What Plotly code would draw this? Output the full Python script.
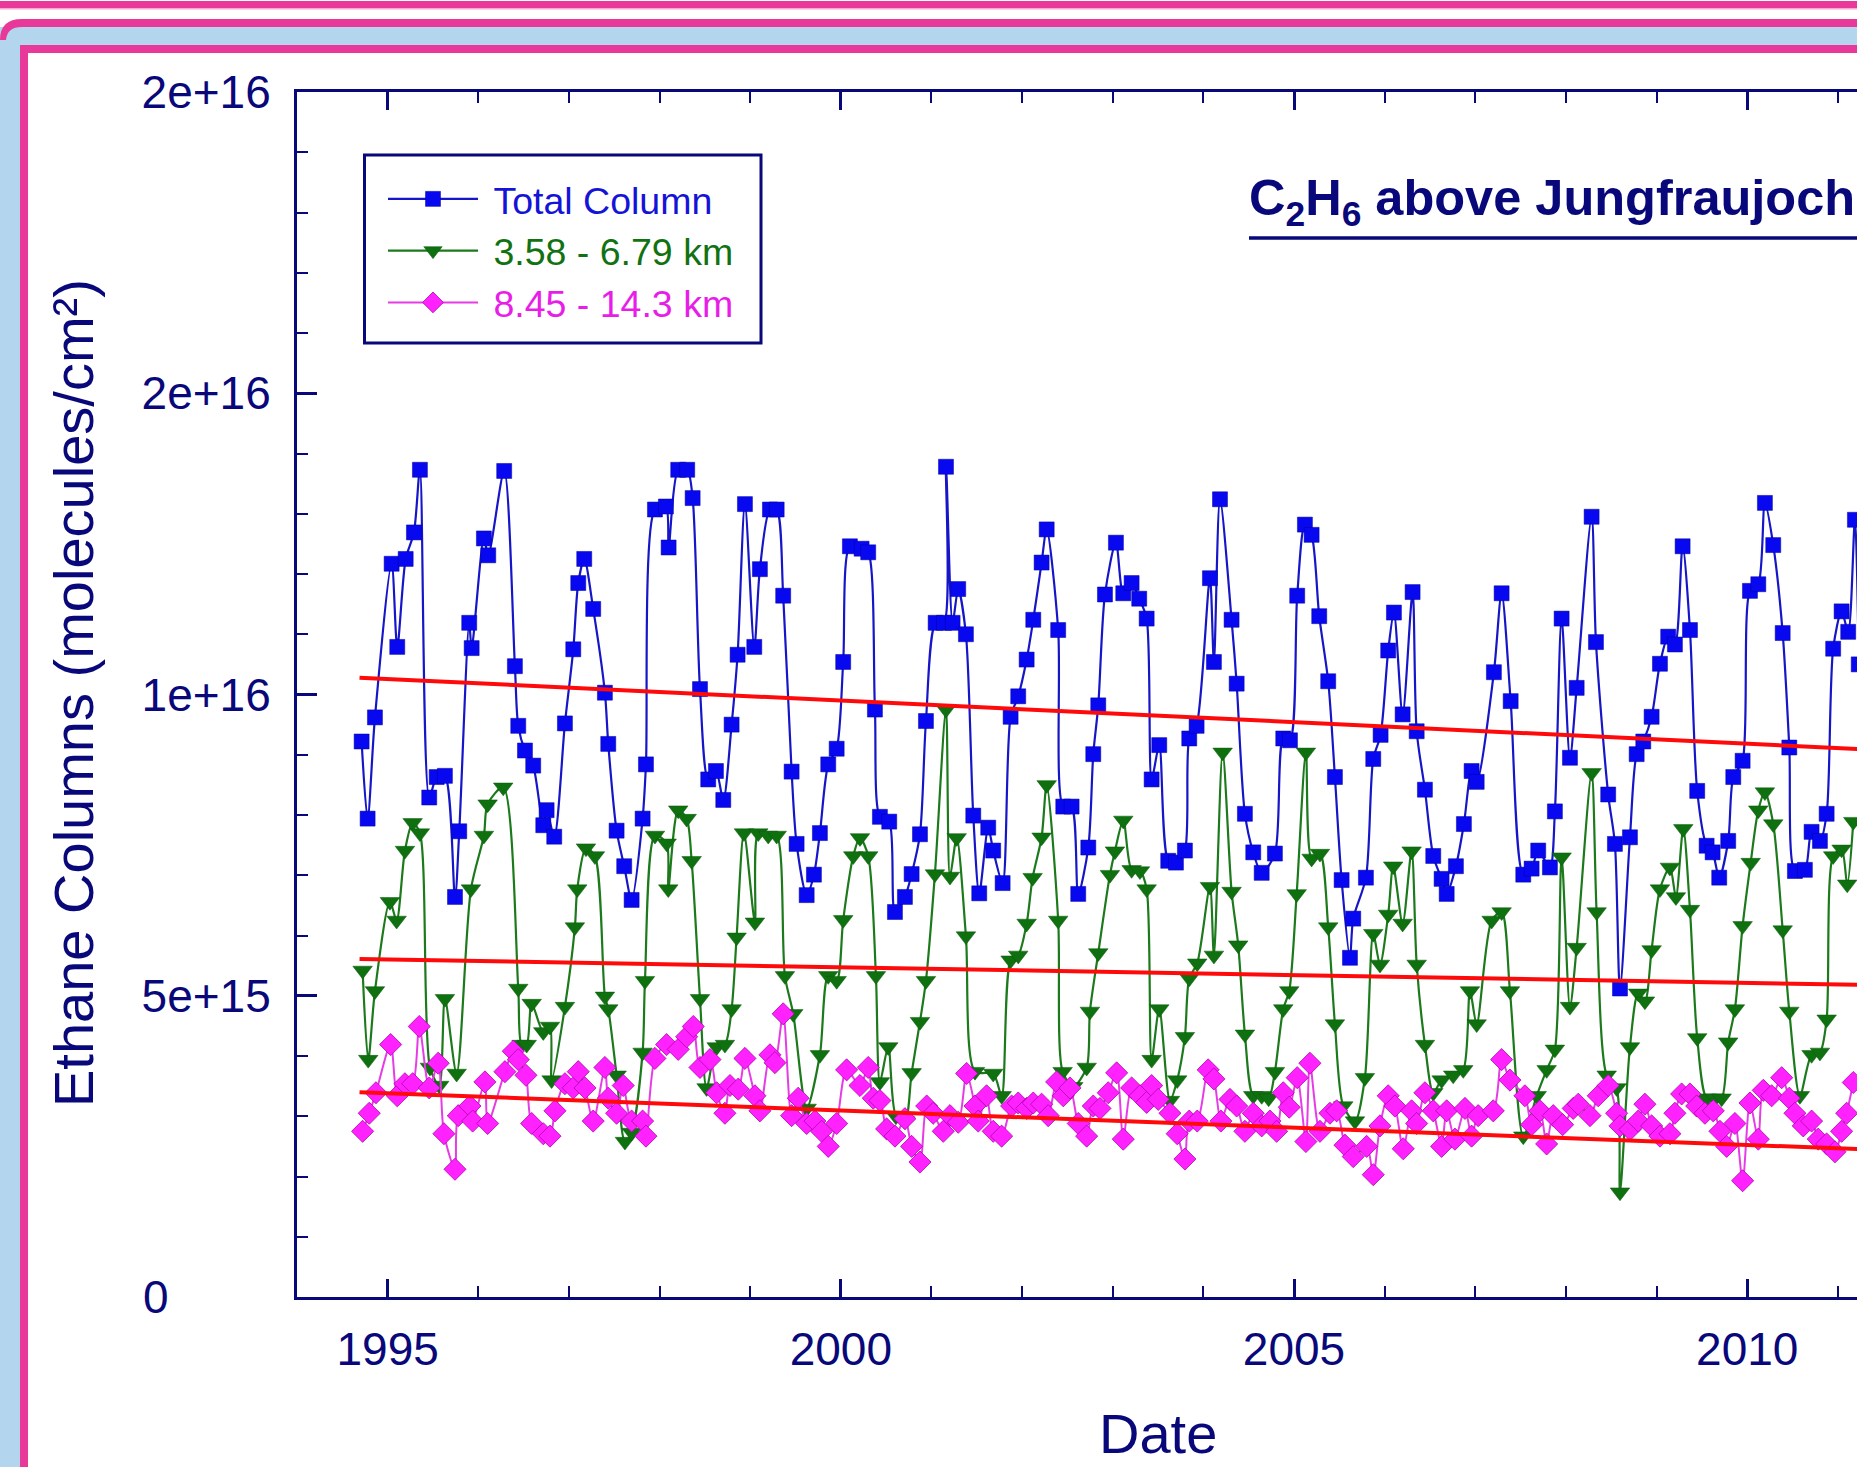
import plotly.graph_objects as go

# ---------------- data (values in units of 1e15 molecules/cm2) ----------------
SCALE = 1e15

total_years = [
    1994.713, 1994.779, 1994.860, 1995.044, 1995.106, 1995.199, 1995.290, 1995.356, 1995.459, 1995.541,
    1995.632, 1995.743, 1995.790, 1995.900, 1995.927, 1996.062, 1996.110, 1996.286, 1996.404, 1996.441,
    1996.515, 1996.606, 1996.717, 1996.754, 1996.838, 1996.956, 1997.048, 1997.103, 1997.169, 1997.268,
    1997.397, 1997.434, 1997.526, 1997.610, 1997.692, 1997.813, 1997.850, 1997.949, 1998.070, 1998.100,
    1998.206, 1998.305, 1998.365, 1998.446, 1998.537, 1998.622, 1998.703, 1998.795, 1998.861, 1998.942,
    1999.045, 1999.107, 1999.218, 1999.292, 1999.364, 1999.457, 1999.512, 1999.623, 1999.703, 1999.769,
    1999.861, 1999.954, 2000.026, 2000.100,
    2000.229, 2000.302, 2000.376, 2000.431, 2000.534, 2000.597, 2000.707, 2000.781, 2000.873, 2000.939,
    2001.046, 2001.138, 2001.160, 2001.233, 2001.295, 2001.380, 2001.461, 2001.527, 2001.626, 2001.681,
    2001.785, 2001.873, 2001.957, 2002.050, 2002.123, 2002.215, 2002.271, 2002.398, 2002.454, 2002.546,
    2002.619, 2002.730, 2002.785, 2002.840,
    2002.914, 2003.035, 2003.116, 2003.208, 2003.292, 2003.374, 2003.429, 2003.513, 2003.612, 2003.697,
    2003.796, 2003.844, 2003.925, 2004.072, 2004.116, 2004.183, 2004.311, 2004.367, 2004.458, 2004.550,
    2004.643, 2004.789, 2004.881, 2004.955, 2005.035, 2005.120, 2005.194, 2005.278, 2005.377, 2005.451,
    2005.525, 2005.617, 2005.653,
    2005.793, 2005.874, 2005.955, 2006.039, 2006.102, 2006.198, 2006.308, 2006.353, 2006.444, 2006.536,
    2006.628, 2006.684, 2006.786, 2006.874, 2006.959, 2007.015, 2007.205, 2007.290, 2007.390, 2007.529,
    2007.621, 2007.694, 2007.823, 2007.878, 2007.952, 2008.044, 2008.118, 2008.283, 2008.331,
    2008.466, 2008.540, 2008.596, 2008.706, 2008.780, 2008.853, 2008.945, 2009.037, 2009.128, 2009.202,
    2009.287, 2009.368, 2009.448, 2009.552, 2009.618, 2009.691, 2009.790, 2009.846, 2009.949, 2010.030,
    2010.122, 2010.195, 2010.287, 2010.391, 2010.464, 2010.526, 2010.636, 2010.710, 2010.802, 2010.876,
    2010.948, 2011.041, 2011.114, 2011.188, 2011.230,
]
total_vals = [
    9.22, 7.94, 9.62, 12.17, 10.79, 12.25, 12.69, 13.73, 8.29, 8.63,
    8.65, 6.64, 7.73, 11.19, 10.77, 12.59, 12.31, 13.71, 10.47, 9.48,
    9.07, 8.82, 7.83, 8.08, 7.64, 9.52, 10.75, 11.85, 12.25, 11.42,
    10.03, 9.18, 7.74, 7.15, 6.59, 7.94, 8.84, 13.07, 13.12, 12.44,
    13.73, 13.73, 13.26, 10.09, 8.59, 8.73, 8.25, 9.50, 10.66, 13.16,
    10.79, 12.08, 13.07, 13.07, 11.64, 8.72, 7.52, 6.67, 7.01, 7.70,
    8.84, 9.10, 10.54, 12.46,
    12.42, 12.36, 9.75, 7.97, 7.89, 6.39, 6.64, 7.02, 7.68, 9.56,
    11.19, 11.19, 13.78, 11.19, 11.75, 11.00, 7.99, 6.70, 7.79, 7.41,
    6.87, 9.63, 9.97, 10.58, 11.24, 12.19, 12.74, 11.07, 8.14, 8.14,
    6.69, 7.46, 9.01, 9.82,
    11.66, 12.52, 11.68, 11.85, 11.59, 11.26, 8.59, 9.16, 7.24, 7.21,
    7.41, 9.27, 9.48, 11.93, 10.54, 13.24, 11.24, 10.18, 8.02, 7.38,
    7.04, 7.36, 9.27, 9.24, 11.64, 12.82, 12.65, 11.30, 10.22, 8.63,
    6.92, 5.63, 6.28,
    6.96, 8.93, 9.33, 10.73, 11.36, 9.67, 11.70, 9.39, 8.42, 7.32,
    6.94, 6.69, 7.15, 7.85, 8.73, 8.55, 10.37, 11.68, 9.89, 7.01,
    7.11, 7.41, 7.13, 8.06, 11.26, 8.95, 10.11, 12.95, 10.87,
    8.34, 7.52, 5.12, 7.63, 9.01, 9.22, 9.63, 10.51, 10.96, 10.83,
    12.46, 11.07, 8.40, 7.49, 7.38, 6.96, 7.57, 8.63, 8.90, 11.72,
    11.83, 13.18, 12.48, 11.02, 9.12, 7.07, 7.09, 7.72, 7.57, 8.02,
    10.76, 11.38, 11.04, 12.90, 10.50,
]

mid_years = [
    1994.724, 1994.786, 1994.860, 1995.025, 1995.099, 1995.191, 1995.276, 1995.356, 1995.467, 1995.569,
    1995.632, 1995.761, 1995.919, 1996.062, 1996.103, 1996.275, 1996.441, 1996.478, 1996.534, 1996.589,
    1996.717, 1996.791, 1996.809, 1996.956, 1997.066, 1997.092, 1997.188, 1997.287,
    1997.397, 1997.434, 1997.526, 1997.618, 1997.692, 1997.813, 1997.839, 1997.949, 1998.078, 1998.096,
    1998.206, 1998.299, 1998.354, 1998.446, 1998.519, 1998.630, 1998.721, 1998.795, 1998.850, 1998.931,
    1999.052, 1999.089, 1999.199, 1999.292, 1999.383, 1999.475, 1999.623, 1999.769, 1999.861, 1999.954,
    2000.026,
    2000.137, 2000.211, 2000.302, 2000.387, 2000.431, 2000.523, 2000.608, 2000.707, 2000.781, 2000.873,
    2000.939, 2001.038, 2001.160, 2001.204, 2001.278, 2001.380, 2001.480, 2001.681, 2001.774, 2001.873,
    2001.957, 2002.050, 2002.116, 2002.215, 2002.271, 2002.398, 2002.447, 2002.564, 2002.712, 2002.748,
    2002.840,
    2002.969, 2003.024, 2003.116, 2003.208, 2003.300, 2003.374, 2003.429, 2003.513, 2003.631, 2003.711,
    2003.796, 2003.844, 2003.932, 2004.072, 2004.116, 2004.212, 2004.311, 2004.384, 2004.458, 2004.550,
    2004.643, 2004.720, 2004.789, 2004.881, 2004.947, 2005.029, 2005.131, 2005.194, 2005.286, 2005.377,
    2005.451, 2005.543,
    2005.672, 2005.782, 2005.874, 2005.948, 2006.039, 2006.094, 2006.198, 2006.297, 2006.353, 2006.444,
    2006.536, 2006.628, 2006.756, 2006.867, 2006.941, 2007.015, 2007.180, 2007.290, 2007.382, 2007.529,
    2007.677, 2007.787, 2007.878, 2007.952, 2008.044, 2008.118, 2008.283, 2008.338,
    2008.449, 2008.559, 2008.596, 2008.706, 2008.797, 2008.871, 2008.945, 2009.037, 2009.147, 2009.213,
    2009.294, 2009.368, 2009.448, 2009.552, 2009.644, 2009.717, 2009.790, 2009.864, 2009.949, 2010.038,
    2010.122, 2010.195, 2010.287, 2010.391, 2010.464, 2010.581, 2010.710, 2010.802, 2010.876, 2010.948,
    2011.041, 2011.103, 2011.170,
]
mid_vals = [
    5.42, 3.94, 5.08, 6.56, 6.25, 7.41, 7.87, 7.70, 3.81, 3.51,
    4.95, 3.71, 6.77, 7.66, 8.18, 8.46, 5.12, 4.19, 4.19, 4.87,
    4.40, 4.49, 3.60, 4.82, 6.14, 6.77, 7.45, 7.32,
    4.99, 4.78, 3.68, 2.58, 2.73, 4.06, 5.25, 7.66, 7.53, 6.77,
    8.08, 7.94, 7.24, 4.95, 3.47, 4.15, 4.19, 4.78, 5.97, 7.70,
    6.22, 7.70, 7.66, 7.66, 5.33, 4.70, 3.13, 4.02, 5.33, 5.25,
    6.26,
    7.32, 7.62, 7.32, 5.33, 3.57, 4.15, 3.00, 2.92, 3.72, 4.57,
    5.25, 7.02, 9.75, 6.98, 7.62, 5.99, 3.74, 3.71, 3.34, 5.59,
    5.67, 6.20, 6.96, 7.63, 8.50, 6.25, 3.74, 3.49, 3.81, 4.74,
    5.71,
    7.01, 7.40, 7.91, 7.09, 7.07, 6.77, 3.94, 4.78, 3.26, 3.60,
    4.32, 5.29, 5.54, 6.81, 5.67, 9.04, 6.73, 5.84, 4.36, 3.34,
    3.34, 3.30, 3.74, 4.78, 5.08, 6.69, 9.04, 7.28, 7.36, 6.14,
    4.53, 3.17,
    2.92, 3.64, 6.03, 5.52, 6.35, 7.15, 6.20, 7.40, 5.52, 4.19,
    3.39, 3.60, 3.68, 3.77, 5.08, 4.53, 6.25, 6.39, 5.08, 2.67,
    3.34, 3.77, 4.11, 7.30, 4.82, 5.80, 8.70, 6.39,
    3.68, 3.47, 1.74, 4.15, 5.04, 4.91, 5.76, 6.77, 7.13, 6.64,
    7.77, 6.43, 4.30, 3.30, 3.30, 3.30, 4.23, 4.78, 6.16, 7.21,
    8.08, 8.38, 7.85, 6.09, 4.74, 3.34, 4.02, 4.06, 4.61, 7.32,
    7.43, 6.85, 7.89,
]

upper_years = [
    1994.724, 1994.797, 1994.871, 1995.033, 1995.106, 1995.191, 1995.276, 1995.349, 1995.459, 1995.558,
    1995.621, 1995.743, 1995.779, 1995.908, 1995.938, 1996.073, 1996.103, 1996.294, 1996.386, 1996.441,
    1996.526, 1996.589, 1996.717, 1996.791, 1996.846, 1996.956, 1997.048, 1997.103, 1997.177, 1997.268,
    1997.397, 1997.434, 1997.526, 1997.599, 1997.692, 1997.813, 1997.850, 1997.949, 1998.078, 1998.206,
    1998.299, 1998.372, 1998.446, 1998.556, 1998.630, 1998.721, 1998.777, 1998.868, 1998.942, 1999.052,
    1999.107, 1999.218, 1999.273, 1999.364, 1999.457, 1999.530, 1999.623, 1999.714, 1999.788, 1999.861,
    1999.954, 2000.064,
    2000.211, 2000.302, 2000.358, 2000.431, 2000.505, 2000.597, 2000.707, 2000.781, 2000.873, 2000.947,
    2001.019, 2001.130, 2001.204, 2001.295, 2001.388, 2001.480, 2001.516, 2001.608, 2001.681, 2001.774,
    2001.884, 2001.957, 2002.050, 2002.123, 2002.215, 2002.288, 2002.381, 2002.454, 2002.528, 2002.619,
    2002.712, 2002.785,
    2002.859, 2002.950, 2003.043, 2003.116, 2003.208, 2003.300, 2003.374, 2003.429, 2003.502, 2003.631,
    2003.711, 2003.796, 2003.844, 2003.932, 2004.053, 2004.116, 2004.193, 2004.293, 2004.367, 2004.458,
    2004.550, 2004.643, 2004.734, 2004.808, 2004.881, 2004.947, 2005.035, 2005.131, 2005.175, 2005.286,
    2005.396, 2005.470, 2005.562,
    2005.653, 2005.801, 2005.874, 2005.948, 2006.039, 2006.113, 2006.205, 2006.297, 2006.353, 2006.444,
    2006.536, 2006.628, 2006.684, 2006.775, 2006.886, 2006.959, 2007.032, 2007.198, 2007.290, 2007.382,
    2007.547, 2007.621, 2007.713, 2007.787, 2007.860, 2007.963, 2008.080, 2008.136, 2008.265, 2008.356,
    2008.466, 2008.559, 2008.596, 2008.706, 2008.797, 2008.871, 2008.945, 2009.037, 2009.147, 2009.202,
    2009.276, 2009.368, 2009.442, 2009.533, 2009.625, 2009.699, 2009.773, 2009.864, 2009.949, 2010.030,
    2010.122, 2010.177, 2010.269, 2010.380, 2010.464, 2010.526, 2010.618, 2010.710, 2010.783, 2010.876,
    2010.968, 2011.041, 2011.097, 2011.170,
]
upper_vals = [
    2.75, 3.05, 3.39, 4.19, 3.34, 3.54, 3.54, 4.49, 3.47, 3.88,
    2.71, 2.12, 3.01, 3.17, 2.92, 3.57, 2.88, 3.74, 4.08, 3.94,
    3.68, 2.88, 2.71, 2.67, 3.09, 3.54, 3.47, 3.74, 3.47, 2.92,
    3.81, 3.30, 3.05, 3.51, 2.92, 2.92, 2.67, 3.96, 4.19, 4.11,
    4.32, 4.49, 3.81, 3.94, 3.39, 3.05, 3.51, 3.45, 3.96, 3.34,
    3.09, 4.02, 3.89, 4.70, 3.01, 3.30, 2.88, 2.92, 2.75, 2.50,
    2.88, 3.77,
    3.51, 3.81, 3.30, 3.26, 2.79, 2.67, 2.96, 2.50, 2.24, 3.17,
    3.05, 2.75, 3.01, 2.90, 3.71, 3.17, 2.92, 3.34, 2.75, 2.67,
    3.17, 3.22, 3.13, 3.22, 3.20, 3.01, 3.57, 3.34, 3.47, 2.88,
    2.67, 3.17,
    3.13, 3.39, 3.72, 2.62, 3.47, 3.34, 3.23, 3.51, 3.28, 3.05,
    2.71, 2.29, 2.92, 2.92, 3.77, 3.62, 2.92, 3.28, 3.17, 2.75,
    3.05, 2.84, 2.92, 2.75, 3.39, 3.15, 3.64, 2.58, 3.88, 2.75,
    3.05, 3.09, 2.52,
    2.33, 2.50, 2.03, 2.84, 3.34, 3.17, 2.46, 3.09, 2.88, 3.39,
    3.09, 2.50, 3.09, 2.62, 3.13, 2.67, 3.01, 3.09, 3.94, 3.60,
    3.34, 2.86, 3.09, 2.54, 3.01, 2.86, 3.13, 3.20, 3.01, 3.34,
    3.51, 3.05, 2.84, 2.78, 2.92, 3.20, 2.84, 2.67, 2.71, 3.05,
    3.37, 3.37, 3.17, 3.05, 3.09, 2.75, 2.50, 2.88, 1.93, 3.22,
    2.62, 3.43, 3.34, 3.64, 3.30, 3.05, 2.84, 2.92, 2.62, 2.54,
    2.41, 2.75, 3.05, 3.56,
]

trend_years = [1994.69, 2011.30]
trend_total = [10.28, 9.09]
trend_mid = [5.61, 5.18]
trend_upper = [3.40, 2.45]

series_names = ["Total Column", "3.58 - 6.79 km", "8.45 - 14.3 km"]
x_tick_vals = [1995, 2000, 2005, 2010]
x_tick_text = ["1995", "2000", "2005", "2010"]
y_tick_vals = [0, 5, 10, 15, 20]          # x 1e15
y_tick_text = ["0\u2007\u2007\u2007\u2007", "5e+15", "1e+16", "2e+16", "2e+16"]
y_title = "Ethane Columns (molecules/cm\u00b2)"
x_title = "Date"
chart_title = "<b>C<sub>2</sub>H<sub>6</sub> above Jungfraujoch</b>"

assert len(total_years) == len(total_vals)
assert len(mid_years) == len(mid_vals)
assert len(upper_years) == len(upper_vals)

# ---------------- styling ----------------
W, H = 1857, 1467
L, R, T, B = 297, 0, 92, 170
PW, PH = W - L - R, H - T - B
NAVY = "#08087a"
BLUE = "#0808f0"
GREEN = "#0f700f"
MAGENTA = "#ff22ff"
RED = "#ff0a0a"
PINK = "#e8389a"
LIGHTBLUE = "#b3d6ee"
FONT = "Liberation Sans, Arial, sans-serif"


def fx(p):
    return (p - L) / PW


def fy(p):
    return (H - B - p) / PH


def sc(v):
    return [a * SCALE for a in v]


fig = go.Figure()

fig.add_trace(go.Scatter(
    x=total_years, y=sc(total_vals), mode="lines+markers",
    name='<span style="color:#1414d8">\u00a0%s</span>' % series_names[0],
    line=dict(color="#1616c8", width=2.2, shape="spline", smoothing=0.8),
    marker=dict(symbol="square", size=15, color=BLUE, line=dict(color="#0000a0", width=0.5)),
))
fig.add_trace(go.Scatter(
    x=mid_years, y=sc(mid_vals), mode="lines+markers",
    name='<span style="color:#127212">\u00a0%s</span>' % series_names[1],
    line=dict(color="#1c7a1c", width=2.2, shape="spline", smoothing=0.8),
    marker=dict(symbol="triangle-down", size=17, color=GREEN, line=dict(color="#0a5a0a", width=0.5)),
))
fig.add_trace(go.Scatter(
    x=upper_years, y=sc(upper_vals), mode="lines+markers",
    name='<span style="color:#e81ee8">\u00a0%s</span>' % series_names[2],
    line=dict(color="#e63ce6", width=2.0, shape="spline", smoothing=0.8),
    marker=dict(symbol="diamond", size=17, color=MAGENTA, line=dict(color="#b000b0", width=0.8)),
))
for tv in (trend_total, trend_mid, trend_upper):
    fig.add_trace(go.Scatter(
        x=trend_years, y=sc(tv), mode="lines", showlegend=False, hoverinfo="skip",
        line=dict(color=RED, width=4),
    ))

axis_common = dict(
    showline=True, linecolor=NAVY, linewidth=3, showgrid=False, zeroline=False,
    ticks="inside", tickcolor=NAVY, tickwidth=2.5,
    tickfont=dict(family=FONT, size=46, color=NAVY),
)

fig.update_xaxes(
    range=[1994, 1994 + PW / 90.64], tickmode="array", tickvals=x_tick_vals, ticktext=x_tick_text,
    ticklen=18, mirror="ticks", ticklabelstandoff=10,
    minor=dict(dtick=1, tick0=1994, ticks="inside", ticklen=11, tickwidth=2, tickcolor=NAVY),
    **axis_common,
)
fig.update_yaxes(
    range=[0, 20 * SCALE], tickmode="array", tickvals=sc(y_tick_vals), ticktext=y_tick_text,
    ticklen=20, mirror=False, ticklabelstandoff=14,
    minor=dict(dtick=SCALE, ticks="inside", ticklen=11, tickwidth=2, tickcolor=NAVY),
    **axis_common,
)

shapes = []
# light blue frame band
shapes.append(dict(type="rect", xref="paper", yref="paper", x0=fx(0), x1=fx(W + 30), y0=fy(27), y1=fy(H + 30),
                   fillcolor=LIGHTBLUE, line=dict(width=0), layer="below"))
# inner pink border
shapes.append(dict(type="rect", xref="paper", yref="paper", x0=fx(20), x1=fx(W + 30), y0=fy(45), y1=fy(H + 30),
                   fillcolor=PINK, line=dict(width=0), layer="below"))
shapes.append(dict(type="rect", xref="paper", yref="paper", x0=fx(28), x1=fx(W + 30), y0=fy(53), y1=fy(H + 30),
                   fillcolor="white", line=dict(width=0), layer="below"))
# outer pink band with rounded corner
pts = "M %f,%f Q %f,%f %f,%f L %f,%f L %f,%f L %f,%f Q %f,%f %f,%f Z" % (
    fx(0), fy(40), fx(0), fy(19), fx(22), fy(19), fx(W + 30), fy(19), fx(W + 30), fy(27),
    fx(22), fy(27), fx(7), fy(27), fx(6), fy(40))
shapes.append(dict(type="path", xref="paper", yref="paper", path=pts, fillcolor=PINK,
                   line=dict(width=0), layer="below"))
# top pink stripe
shapes.append(dict(type="rect", xref="paper", yref="paper", x0=fx(-5), x1=fx(W + 30), y0=fy(1), y1=fy(8),
                   fillcolor=PINK, line=dict(width=0), layer="below"))
shapes.append(dict(type="rect", xref="paper", yref="paper", x0=fx(-5), x1=fx(W + 30), y0=fy(8), y1=fy(9.5),
                   fillcolor="#f6a9cd", line=dict(width=0), layer="below"))
# legend frame
shapes.append(dict(type="rect", xref="paper", yref="paper", x0=fx(364.5), x1=fx(761), y0=fy(155), y1=fy(343),
                   fillcolor="white", line=dict(color=NAVY, width=3), layer="below"))
# title underline
shapes.append(dict(type="line", xref="paper", yref="paper", x0=fx(1249), x1=fx(W + 30), y0=fy(238), y1=fy(238),
                   line=dict(color=NAVY, width=3.5), layer="above"))

annotations = [
    dict(text=y_title, xref="paper", yref="paper", x=fx(73), y=fy(693), textangle=-90,
         showarrow=False, xanchor="center", yanchor="middle",
         font=dict(family=FONT, size=56, color=NAVY)),
    dict(text=x_title, xref="paper", yref="paper", x=fx(1158), y=fy(1433),
         showarrow=False, xanchor="center", yanchor="middle", borderpad=0,
         font=dict(family=FONT, size=56, color=NAVY)),
    dict(text=chart_title, xref="paper", yref="paper", x=fx(1247), y=fy(200.5),
         showarrow=False, xanchor="left", yanchor="middle",
         font=dict(family=FONT, size=50.5, color=NAVY)),
]

fig.update_layout(
    width=W, height=H, margin=dict(l=L, r=R, t=T, b=B, pad=0, autoexpand=False),
    paper_bgcolor="white", plot_bgcolor="white",
    shapes=shapes, annotations=annotations,
    showlegend=True,
    legend=dict(x=fx(383), y=fy(168), xanchor="left", yanchor="top",
                bgcolor="rgba(0,0,0,0)", borderwidth=0,
                font=dict(family=FONT, size=37.5, color=NAVY),
                itemwidth=90, tracegroupgap=0),
)

fig.write_html("out.html")
